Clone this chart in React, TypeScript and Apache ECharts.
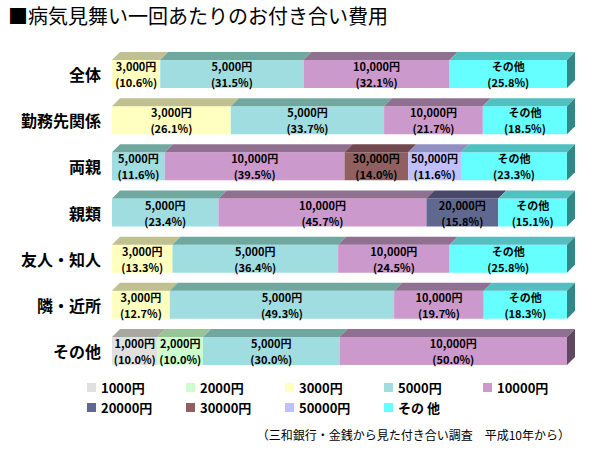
import React, { useEffect, useRef } from "react";
import * as echarts from "echarts";

// Rows (relationship to the patient)
const categories = ["全体", "勤務先関係", "両親", "親類", "友人・知人", "隣・近所", "その他"];

// Share (%) of each gift amount per row
const p1000 = [0, 0, 0, 0, 0, 0, 10.0];
const p2000 = [0, 0, 0, 0, 0, 0, 10.0];
const p3000 = [10.6, 26.1, 0, 0, 13.3, 12.7, 0];
const p5000 = [31.5, 33.7, 11.6, 23.4, 36.4, 49.3, 30.0];
const p10000 = [32.1, 21.7, 39.5, 45.7, 24.5, 19.7, 50.0];
const p20000 = [0, 0, 0, 15.8, 0, 0, 0];
const p30000 = [0, 0, 14.0, 0, 0, 0, 0];
const p50000 = [0, 0, 11.6, 0, 0, 0, 0];
const pOther = [25.8, 18.5, 23.3, 15.1, 25.8, 18.3, 0];

// Legend names and in-bar labels
const legendNames = ["1000円", "2000円", "3000円", "5000円", "10000円", "20000円", "30000円", "50000円", "その 他"];
const barLabels = ["1,000円", "2,000円", "3,000円", "5,000円", "10,000円", "20,000円", "30,000円", "50,000円", "その他"];

const seriesValues = [p1000, p2000, p3000, p5000, p10000, p20000, p30000, p50000, pOther];

// Face colours: front, top, right side
const faces = [
  { front: "#E0E0E0", top: "#A8A8A0", side: "#707070" },
  { front: "#CCFFCC", top: "#98C498", side: "#608060" },
  { front: "#FFFFC0", top: "#C0C090", side: "#808060" },
  { front: "#A0DDE0", top: "#70A8A0", side: "#406868" },
  { front: "#CC99CC", top: "#907090", side: "#604860" },
  { front: "#606890", top: "#484868", side: "#303048" },
  { front: "#906060", top: "#704850", side: "#503038" },
  { front: "#C0C0FF", top: "#9090C0", side: "#606088" },
  { front: "#66FFFF", top: "#50C0C0", side: "#308888" },
];

const TITLE = "■病気見舞い一回あたりのお付き合い費用";
const SOURCE = "（三和銀行・金銭から見た付き合い調査　平成10年から）";

const FONT = "'Noto Sans CJK JP', 'Noto Sans', sans-serif";
const DEPTH = 8;
const BAR_H = 28;

function labelText(text: string, x: number, y: number) {
  return {
    type: "text",
    style: {
      text,
      x,
      y,
      align: "center",
      verticalAlign: "middle",
      fontSize: 11,
      fontWeight: "bold",
      fontFamily: FONT,
      fill: "#000",
    },
  };
}

function buildOption() {
  // last non-empty segment per row gets the side face
  const lastIdx = categories.map((_, r) => {
    let last = -1;
    seriesValues.forEach((vals, s) => {
      if (vals[r] > 0) last = s;
    });
    return last;
  });

  const starts = categories.map(() => 0);
  const series = seriesValues.map((vals, s) => {
    const data: number[][] = [];
    vals.forEach((v, r) => {
      const st = starts[r];
      if (v > 0) {
        data.push([st, st + v, r, v, lastIdx[r] === s ? 1 : 0]);
      }
      starts[r] = st + v;
    });
    const f = faces[s];
    return {
      type: "custom",
      name: legendNames[s],
      itemStyle: { color: f.front },
      encode: { x: [0, 1], y: 2 },
      data,
      renderItem: (params: any, api: any) => {
        const x0 = api.coord([api.value(0), api.value(2)])[0];
        const p1 = api.coord([api.value(1), api.value(2)]);
        const x1 = p1[0];
        const yc = p1[1];
        const yT = yc - BAR_H / 2;
        const yB = yc + BAR_H / 2;
        const pct = api.value(3) as number;
        const xm = (x0 + x1) / 2;
        const children: any[] = [
          {
            type: "rect",
            shape: { x: x0, y: yT, width: x1 - x0, height: BAR_H },
            style: { fill: f.front },
          },
          {
            type: "polygon",
            shape: { points: [[x0, yT], [x1, yT], [x1 + DEPTH, yT - DEPTH], [x0 + DEPTH, yT - DEPTH]] },
            style: { fill: f.top },
          },
        ];
        if (api.value(4) === 1) {
          children.push({
            type: "polygon",
            shape: { points: [[x1, yT], [x1 + DEPTH, yT - DEPTH], [x1 + DEPTH, yB - DEPTH], [x1, yB]] },
            style: { fill: f.side },
          });
        }
        children.push(labelText(barLabels[s], xm, yc - 8));
        children.push(labelText("(" + pct.toFixed(1) + "%)", xm, yc + 8));
        return { type: "group", children };
      },
    };
  });

  // one legend block per entry, laid out in a fixed 5-column grid
  const legendCols = [87, 186, 285, 384, 483];
  const legendRows = [381, 401];
  const legends = legendNames.map((name, i) => ({
    data: [name],
    left: legendCols[i % 5],
    top: legendRows[Math.floor(i / 5)],
    padding: 0,
    itemWidth: 9,
    itemHeight: 9,
    icon: "rect",
    selectedMode: false,
    textStyle: { fontSize: 13, fontWeight: "bold", color: "#000", fontFamily: FONT },
  }));

  return {
    animation: false,
    backgroundColor: "#fff",
    title: {
      text: TITLE,
      left: 8,
      top: 5,
      padding: 0,
      textStyle: { fontSize: 20, fontWeight: "normal", color: "#000", fontFamily: FONT },
    },
    legend: legends,
    grid: { left: 112, right: 33, top: 51, bottom: 76 },
    xAxis: {
      type: "value",
      min: 0,
      max: 100,
      show: false,
    },
    yAxis: {
      type: "category",
      data: categories,
      inverse: true,
      axisLine: { show: false },
      axisTick: { show: false },
      splitLine: { show: false },
      axisLabel: { fontSize: 16, fontWeight: "bold", color: "#000", margin: 11, fontFamily: FONT },
    },
    graphic: [
      {
        type: "text",
        right: 30,
        top: 428,
        style: { text: SOURCE, fontSize: 12, fill: "#000", fontFamily: FONT },
      },
    ],
    series,
  };
}

export default function App() {
  const ref = useRef<HTMLDivElement>(null);
  useEffect(() => {
    if (!ref.current) return;
    const chart = echarts.init(ref.current, null, { renderer: "svg" });
    chart.setOption(buildOption() as any);
    return () => chart.dispose();
  }, []);
  return (
    <div
      ref={ref}
      style={{ position: "fixed", left: 0, top: 0, width: 600, height: 450, background: "#fff" }}
    />
  );
}
